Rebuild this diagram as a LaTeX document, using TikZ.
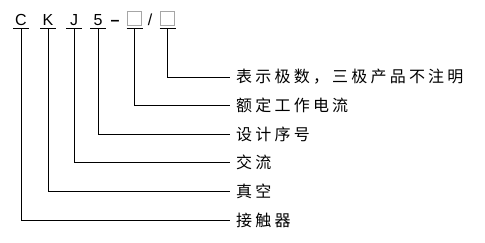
\documentclass[tikz,border=0pt]{standalone}
\usepackage{fontspec}
\setmainfont{Liberation Sans}
\newfontfamily\cjk[LetterSpace=20]{Noto Sans CJK SC}
\usetikzlibrary{positioning}
\tikzset{
  code/.style={font=\fontsize{16}{19}\selectfont, inner sep=0pt, anchor=base},
  slot/.style={draw=gray!70, line width=0.9pt, minimum size=14pt, inner sep=0pt},
  mean/.style={font=\cjk\fontsize{16}{19}\selectfont, anchor=west, inner xsep=6pt, inner ysep=0pt},
  lead/.style={line width=0.9pt},
}
\begin{document}
\begin{tikzpicture}[x=1pt, y=-1pt]
\useasboundingbox (0,0) rectangle (485,242);
% model code
\node[code] (C) at (21,25) {C};
\node[code] (K) at (48,25) {K};
\node[code] (J) at (74,25) {J};
\node[code] (f) at (98,25) {5};
\node[code] (dash) at (115,25) {\textbf{--}};
\node[slot] (b1) at (134.5,18.5) {};
\node[code] (sl) at (150,25) {/};
\node[slot] (b2) at (167.5,18.5) {};
% meanings
\foreach \nm/\x/\ly/\txt in {b2/167.5/77/表示极数，三极产品不注明,
    b1/134.5/105.5/额定工作电流, f/98/134/设计序号,
    J/74/162.5/交流, K/48/191/真空, C/21/220/接触器} {
  \coordinate (u\nm) at (\x,28.5);
  \draw[lead] ([xshift=-8pt]u\nm) -- ([xshift=8pt]u\nm);
  \node[mean] (m\nm) at (230,\ly) {\txt};
  \draw[lead] (u\nm) |- (m\nm.west);
}
\end{tikzpicture}
\end{document}
